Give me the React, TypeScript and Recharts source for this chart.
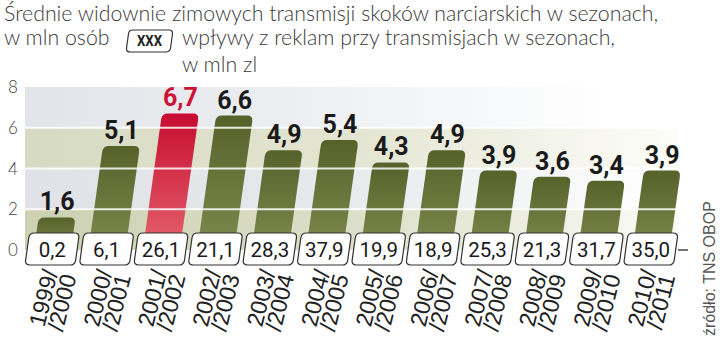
import { BarChart, Bar, XAxis, YAxis, ReferenceArea, ReferenceLine, LabelList } from 'recharts';

// seasons (x categories)
const seasons = [
  '1999/2000', '2000/2001', '2001/2002', '2002/2003', '2003/2004', '2004/2005',
  '2005/2006', '2006/2007', '2007/2008', '2008/2009', '2009/2010', '2010/2011',
];
// average audience, mln viewers
const viewers = [1.6, 5.1, 6.7, 6.6, 4.9, 5.4, 4.3, 4.9, 3.9, 3.6, 3.4, 3.9];
// ad revenue during broadcasts, mln zl
const adRevenue = [0.2, 6.1, 26.1, 21.1, 28.3, 37.9, 19.9, 18.9, 25.3, 21.3, 31.7, 35.0];
const yTicks = [0, 2, 4, 6, 8];
const HIGHLIGHT = 2;

const data = seasons.map((s, i) => ({ season: s, viewers: viewers[i], revenue: adRevenue[i] }));

const SLANT = 0.14;
const fmt = (v: number) => Number(v).toFixed(1).replace('.', ',');

function roundedPoly(pts: number[][], radii: number[]) {
  const n = pts.length;
  let d = '';
  for (let i = 0; i < n; i++) {
    const [px, py] = pts[i];
    const [ax, ay] = pts[(i - 1 + n) % n];
    const [bx, by] = pts[(i + 1) % n];
    const la = Math.hypot(ax - px, ay - py) || 1;
    const lb = Math.hypot(bx - px, by - py) || 1;
    const r = radii[i];
    const ra = Math.min(r, la / 2);
    const rb = Math.min(r, lb / 2);
    const x1 = px + ((ax - px) / la) * ra, y1 = py + ((ay - py) / la) * ra;
    const x2 = px + ((bx - px) / lb) * rb, y2 = py + ((by - py) / lb) * rb;
    d += `${i === 0 ? 'M' : 'L'}${x1},${y1}Q${px},${py} ${x2},${y2}`;
  }
  return d + 'Z';
}

function SlantBar(props: any) {
  const { x, y, width, height, index } = props;
  if (!height) return null;
  const b = y + height;
  const s = height * SLANT;
  const d = roundedPoly([[x, b], [x + s, y], [x + s + width, y], [x + width, b]], [0, 6, 6, 0]);
  return <path d={d} fill={index === HIGHLIGHT ? 'url(#barRed)' : 'url(#barOlive)'} />;
}

function ValueLabel(props: any) {
  const { x, y, width, height, value, index } = props;
  const cx = x + width / 2 + height * SLANT;
  return (
    <text x={cx} y={y - 7} textAnchor="middle" fontFamily="Roboto" fontWeight={700} fontSize={25}
      fill={index === HIGHLIGHT ? '#cc1236' : '#1a1a1a'}>
      {fmt(value)}
    </text>
  );
}

function SeasonTick(props: any) {
  const { x, y, payload } = props;
  const i = payload.index;
  const [a, b] = String(payload.value).split('/');
  const yc = y - 1;
  const hw = 25, hh = 16, sk = hh * SLANT;
  const box = roundedPoly(
    [[x - hw - sk, yc + hh], [x - hw + sk, yc - hh], [x + hw + sk, yc - hh], [x + hw - sk, yc + hh]],
    [5, 5, 5, 5],
  );
  return (
    <g>
      <path d={box} fill="#fff" stroke="#333" strokeWidth={1.2} />
      <text x={x} y={yc + 8} textAnchor="middle" fontFamily="Roboto" fontSize={20.5} fill="#1a1a1a">
        {fmt(adRevenue[i])}
      </text>
      <text transform={`translate(${x + 6},${y + 22}) rotate(-76)`} textAnchor="end"
        fontFamily="Liberation Sans" fontSize={23} fill="#222">
        <tspan x={0} dy={0}>{a}/</tspan>
        <tspan x={0} dy={19}>/{b}</tspan>
      </text>
    </g>
  );
}

function ValueTick(props: any) {
  const { x, y, payload } = props;
  return (
    <text x={x - 12} y={y} dy={6} textAnchor="middle" fontFamily="Lato" fontWeight={300} fontSize={17} fill="#444">
      {payload.value}
    </text>
  );
}

const bands = [
  { y1: 0, y2: 2, fill: 'url(#bandOlive)' },
  { y1: 2, y2: 4, fill: 'url(#bandGrey)' },
  { y1: 4, y2: 6, fill: 'url(#bandOlive2)' },
  { y1: 6, y2: 8, fill: 'url(#bandGrey2)' },
];

const titleFont = { fontFamily: 'Lato', fontWeight: 300, fontSize: 21.3, fill: '#3a3a3a' };

export default function App() {
  return (
    <div style={{ position: 'absolute', left: 0, top: 0, width: 720, height: 342, background: '#fff' }}>
      <BarChart width={720} height={342} data={data} barSize={37}
        margin={{ top: 87, right: 42, bottom: 30, left: 0 }}>
        <defs>
          <linearGradient id="barOlive" x1="0" y1="0" x2="0" y2="1">
            <stop offset="0%" stopColor="#56622a" />
            <stop offset="100%" stopColor="#7d894d" />
          </linearGradient>
          <linearGradient id="barRed" x1="0" y1="0" x2="0" y2="1">
            <stop offset="0%" stopColor="#c60c30" />
            <stop offset="100%" stopColor="#e5636e" />
          </linearGradient>
          <linearGradient id="bandOlive" x1="0" y1="0" x2="1" y2="0">
            <stop offset="0%" stopColor="#cdd1b2" />
            <stop offset="50%" stopColor="#dcdfc8" />
            <stop offset="100%" stopColor="#fbfbf6" />
          </linearGradient>
          <linearGradient id="bandOlive2" x1="0" y1="0" x2="1" y2="0">
            <stop offset="0%" stopColor="#d7dac2" />
            <stop offset="50%" stopColor="#e3e5d2" />
            <stop offset="100%" stopColor="#fdfdf9" />
          </linearGradient>
          <linearGradient id="bandGrey" x1="0" y1="0" x2="1" y2="0">
            <stop offset="0%" stopColor="#e0e2e7" />
            <stop offset="45%" stopColor="#e7e8ec" />
            <stop offset="100%" stopColor="#ffffff" />
          </linearGradient>
          <linearGradient id="bandGrey2" x1="0" y1="0" x2="1" y2="0">
            <stop offset="0%" stopColor="#e2e4ea" />
            <stop offset="40%" stopColor="#eceef1" />
            <stop offset="90%" stopColor="#ffffff" />
          </linearGradient>
        </defs>
        {bands.map((b) => (
          <ReferenceArea key={b.y1} y1={b.y1} y2={b.y2} fill={b.fill} fillOpacity={1} stroke="none" />
        ))}
        <Bar dataKey="viewers" shape={<SlantBar />} isAnimationActive={false}>
          <LabelList dataKey="viewers" content={<ValueLabel />} />
        </Bar>
        {[2, 4, 6].map((v) => (
          <ReferenceLine key={v} y={v} stroke="#fff" strokeWidth={2} strokeOpacity={0.85} />
        ))}
        <XAxis dataKey="season" height={62} interval={0} tickLine={false} axisLine={false}
          tickSize={0} tickMargin={0} tick={<SeasonTick />} />
        <YAxis width={25} domain={[0, 8]} ticks={yTicks} interval={0} tickLine={false} axisLine={false}
          tickSize={0} tickMargin={0} tick={<ValueTick />} />
      </BarChart>
      <svg width={720} height={342} style={{ position: 'absolute', left: 0, top: 0, pointerEvents: 'none' }}>
        <text x={4} y={21} {...titleFont}>Średnie widownie zimowych transmisji skoków narciarskich w sezonach,</text>
        <text x={4} y={45} {...titleFont}>w mln osób</text>
        <path d={roundedPoly([[126, 52], [129, 30], [173, 30], [170, 52]], [4, 4, 4, 4])}
          fill="#fff" stroke="#333" strokeWidth={1.2} />
        <text x={149.5} y={46} textAnchor="middle" fontFamily="Roboto" fontWeight={700} fontSize={15}
          fill="#222" textLength={25} lengthAdjust="spacingAndGlyphs">XXX</text>
        <text x={182} y={45} {...titleFont}>wpływy z reklam przy transmisjach w sezonach,</text>
        <text x={182} y={72} {...titleFont}>w mln zl</text>
        <line x1={678} y1={250} x2={688} y2={250} stroke="#444" strokeWidth={1.5} />
        <text transform="translate(715,336) rotate(-90)" fontFamily="Liberation Sans" fontSize={16} fill="#555">
          źródło: TNS OBOP
        </text>
      </svg>
    </div>
  );
}
